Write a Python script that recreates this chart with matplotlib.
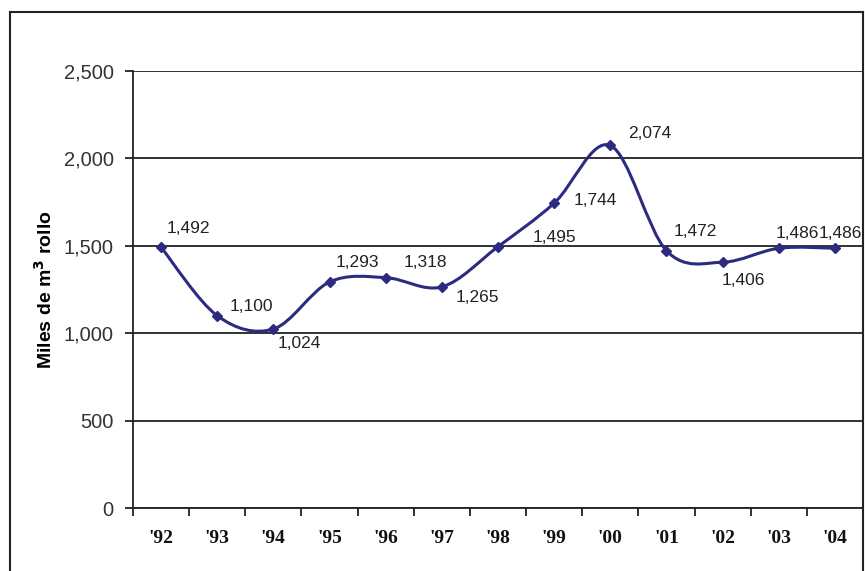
import matplotlib.pyplot as plt
from matplotlib.path import Path
from matplotlib.patches import PathPatch
from matplotlib.lines import Line2D

# Data
years = ["'92", "'93", "'94", "'95", "'96", "'97", "'98", "'99", "'00", "'01", "'02", "'03", "'04"]
volumes = [1492, 1100, 1024, 1293, 1318, 1265, 1495, 1744, 2074, 1472, 1406, 1486, 1486]
labels = ["1,492", "1,100", "1,024", "1,293", "1,318", "1,265", "1,495",
          "1,744", "2,074", "1,472", "1,406", "1,486", "1,486"]
# label offsets (pixels) from each point: left edge of text, vertical centre
label_offsets = [(6, 19), (12, 9), (4, -14), (6, 19), (18, 15), (14, -11), (35, 9),
                 (19, 3), (18, 12), (7, 19), (-1, -18), (-3, 15), (-16, 15)]

line_color = '#2d2b80'

plt.rcParams['font.family'] = ['Liberation Sans', 'DejaVu Sans']

fig = plt.figure(figsize=(8.65, 5.71), dpi=100)
ax = fig.add_axes([133 / 865, 1 - 508 / 571, 730 / 865, 437 / 571])

x = list(range(len(volumes)))

# smoothed line (Excel-style Catmull-Rom bezier through the points)
pts = list(zip(x, volumes))
verts = [pts[0]]
codes = [Path.MOVETO]
for i in range(len(pts) - 1):
    p0 = pts[i - 1] if i > 0 else pts[i]
    p1 = pts[i]
    p2 = pts[i + 1]
    p3 = pts[i + 2] if i + 2 < len(pts) else pts[i + 1]
    c1 = (p1[0] + (p2[0] - p0[0]) / 6, p1[1] + (p2[1] - p0[1]) / 6)
    c2 = (p2[0] - (p3[0] - p1[0]) / 6, p2[1] - (p3[1] - p1[1]) / 6)
    verts += [c1, c2, p2]
    codes += [Path.CURVE4] * 3
ax.add_patch(PathPatch(Path(verts, codes), facecolor='none', edgecolor=line_color,
                       lw=2.2, zorder=3, capstyle='round', joinstyle='round'))
ax.plot(x, volumes, linestyle='none', marker='D', markersize=5.5, color=line_color, zorder=4)

for xi, v, lab, (dx, dy) in zip(x, volumes, labels, label_offsets):
    ax.annotate(lab, (xi, v), xytext=(dx * 0.72, dy * 0.72), textcoords='offset points',
                ha='left', va='center', fontsize=12.5, color='#222222', zorder=5)

ax.set_xlim(-0.5, len(volumes) - 0.5)
ax.set_ylim(0, 2500)
ax.set_yticks([0, 500, 1000, 1500, 2000, 2500])
ax.set_yticklabels(['0', '500', '1,000', '1,500', '2,000', '2,500'], fontsize=14.5, color='#333333')
ax.yaxis.grid(True, color='#222222', linewidth=1.3)
ax.set_axisbelow(True)

ax.set_xticks(x)
ax.set_xticklabels(years, fontsize=14, fontweight='bold', family='Liberation Serif', color='#111111')
ax.set_xticks([i - 0.5 for i in range(len(volumes) + 1)], minor=True)
ax.tick_params(axis='x', which='major', length=0, pad=16)
ax.tick_params(axis='x', which='minor', length=6, width=1.3, color='#222222', direction='out')
ax.tick_params(axis='y', length=6, width=1.3, color='#222222', pad=8)

for s in ['top', 'right']:
    ax.spines[s].set_visible(False)
for s in ['left', 'bottom']:
    ax.spines[s].set_color('#222222')
    ax.spines[s].set_linewidth(1.3)

ax.set_ylabel('Miles de m$^\\mathbf{3}$ rollo', fontsize=14, fontweight='bold')
ax.yaxis.set_label_coords(-77 / 730, 0.5)

# outer chart border
fw, fh = 865, 571
border = dict(color='#222222', linewidth=1.5, transform=fig.transFigure)
fig.add_artist(Line2D([10 / fw, 10 / fw], [0, 1 - 12 / fh], **border))
fig.add_artist(Line2D([10 / fw, 863 / fw], [1 - 12 / fh, 1 - 12 / fh], **border))
fig.add_artist(Line2D([863 / fw, 863 / fw], [0, 1 - 12 / fh], **border))

fig.savefig('out.png', dpi=100)
